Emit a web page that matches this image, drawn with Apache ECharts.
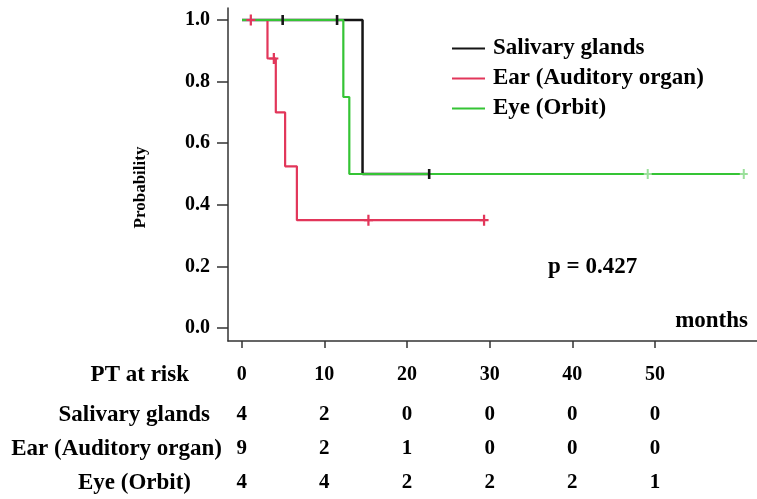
<!DOCTYPE html>
<html>
<head>
<meta charset="utf-8">
<script src="https://cdn.jsdelivr.net/npm/echarts@6/dist/echarts.min.js"></script>
<style>html,body{margin:0;padding:0;background:#fff}#c{width:757px;height:499px}</style>
</head>
<body>
<div id="c"></div>
<script>
// ---- data ----
const groupNames = ['Salivary glands', 'Ear (Auditory organ)', 'Eye (Orbit)'];

const salivaryTimes = [0, 12.3, 19.1];
const salivarySurv = [1, 0.5, 0.5];
const salivaryCensorT = [4.15, 9.7, 19.1];
const salivaryCensorS = [1, 1, 0.5];

const earTimes = [0, 2.6, 3.45, 4.4, 5.6, 24.7];
const earSurv = [1, 0.875, 0.70, 0.525, 0.35, 0.35];
const earCensorT = [0.9, 3.25, 12.9, 24.7];
const earCensorS = [1, 0.875, 0.35, 0.35];

const eyeTimes = [0, 10.34, 10.95, 51.2];
const eyeSurv = [1, 0.75, 0.5, 0.5];
const eyeCensorT = [41.4, 51.2];
const eyeCensorS = [0.5, 0.5];

const riskTimes = [0, 10, 20, 30, 40, 50];
const riskSalivary = [4, 2, 0, 0, 0, 0];
const riskEar = [9, 2, 1, 0, 0, 0];
const riskEye = [4, 4, 2, 2, 2, 1];

const yTicks = [0, 0.2, 0.4, 0.6, 0.8, 1.0];
const pText = 'p = 0.427';

// ---- build ----
const FONT = "'Liberation Serif','Times New Roman',serif";
const colBlack = '#151515', colRed = '#e2365a', colGreen = '#35c435', colGreenLight = '#9be09b';
const zip = (a, b) => a.map((v, i) => [v, b[i]]);
const PLUS = 'path://M3,0H5V4H8V6H5V10H3V6H0V4H3Z';

const chart = echarts.init(document.getElementById('c'), null, {renderer: 'canvas'});

function lineSeries(name, t, s, color, w, z) {
  return {
    name: name, type: 'line', xAxisIndex: 1, yAxisIndex: 0, step: 'end',
    data: zip(t, s), symbol: 'none', z: z,
    lineStyle: {color: color, width: w}, itemStyle: {color: color},
    animation: false
  };
}
function censorSeries(t, s, color, symbol, size, z) {
  return {
    name: 'c' + z, type: 'scatter', xAxisIndex: 1, yAxisIndex: 0,
    data: zip(t, s), symbol: symbol, symbolSize: size, z: z,
    itemStyle: {color: color, opacity: 1}, animation: false, silent: true
  };
}
function riskSeries(vals, row) {
  return {
    name: 'r' + row, type: 'scatter', xAxisIndex: 2, yAxisIndex: 1, symbol: 'circle', symbolSize: 0.01,
    itemStyle: {color: '#000', opacity: 1},
    data: riskTimes.map((t, i) => [t, row, vals[i]]),
    label: {show: true, position: [0, 0], align: 'center', verticalAlign: 'middle',
      formatter: p => String(p.value[2]),
      fontFamily: FONT, fontWeight: 'bold', fontSize: 21, color: '#000', textBorderWidth: 0},
    animation: false, silent: true
  };
}
const txt = (text, size) => ({text: text, fontFamily: FONT, fontWeight: 'bold', fontSize: size, fill: '#000'});

const option = {
  backgroundColor: '#fff',
  animation: false,
  grid: [
    {left: 228, right: 0, top: 8, bottom: 158},
    {left: 228, right: 0, top: 398, bottom: -1}
  ],
  xAxis: [
    {type: 'value', gridIndex: 0, min: -1.657, max: 62.34,
      axisLine: {show: true, onZero: false, lineStyle: {color: '#333', width: 1.5}},
      axisTick: {show: true, length: 7, customValues: riskTimes, lineStyle: {color: '#333', width: 1.5}},
      axisLabel: {show: true, customValues: riskTimes, margin: 24, fontFamily: FONT, fontWeight: 'bold', fontSize: 20, color: '#000'},
      splitLine: {show: false}},
    {type: 'value', gridIndex: 0, min: -1.4286, max: 52.55, show: false},
    {type: 'value', gridIndex: 1, min: -1.657, max: 62.34, show: false}
  ],
  yAxis: [
    {type: 'value', gridIndex: 0, min: -0.04221, max: 1.03896,
      name: 'Probability', nameLocation: 'middle', nameGap: 79, nameRotate: 90,
      nameTextStyle: {fontFamily: FONT, fontWeight: 'bold', fontSize: 17, color: '#000', padding: [0, 26, 0, 0]},
      axisLine: {show: true, onZero: false, lineStyle: {color: '#333', width: 1.5}},
      axisTick: {show: true, length: 11, customValues: yTicks, lineStyle: {color: '#333', width: 1.5}},
      axisLabel: {show: true, customValues: yTicks, margin: 18, formatter: v => v.toFixed(1),
        fontFamily: FONT, fontWeight: 'bold', fontSize: 20, color: '#000'},
      splitLine: {show: false}},
    {type: 'value', gridIndex: 1, min: -0.5, max: 2.5, inverse: true, show: false}
  ],
  legend: {
    orient: 'vertical', left: 447, top: 32, itemWidth: 33, itemHeight: 2, itemGap: 7,
    icon: 'rect', data: groupNames,
    textStyle: {fontFamily: FONT, fontWeight: 'bold', fontSize: 23, color: '#000', padding: [0, 0, 0, 3], lineHeight: 23}
  },
  series: [
    lineSeries(groupNames[0], salivaryTimes, salivarySurv, colBlack, 2.5, 2),
    lineSeries(groupNames[1], earTimes, earSurv, colRed, 2.2, 3),
    lineSeries(groupNames[2], eyeTimes, eyeSurv, colGreen, 2.2, 4),
    censorSeries(salivaryCensorT, salivaryCensorS, colBlack, 'rect', [2.6, 10], 6),
    censorSeries(earCensorT, earCensorS, colRed, PLUS, [9, 11], 7),
    censorSeries(eyeCensorT, eyeCensorS, colGreenLight, PLUS, [8, 10], 5),
    riskSeries(riskSalivary, 0),
    riskSeries(riskEar, 1),
    riskSeries(riskEye, 2)
  ],
  graphic: [
    {type: 'text', right: 757 - 189, top: 364, style: txt('PT at risk', 23)},
    {type: 'text', left: 548, top: 256, style: txt(pText, 23)},
    {type: 'text', right: 9, top: 310, style: txt('months', 23)},
    {type: 'text', right: 757 - 210, top: 404, style: txt(groupNames[0], 23)},
    {type: 'text', right: 757 - 222, top: 438, style: txt(groupNames[1], 23)},
    {type: 'text', right: 757 - 191, top: 472, style: txt(groupNames[2], 23)}
  ]
};
chart.setOption(option);
</script>
</body>
</html>
